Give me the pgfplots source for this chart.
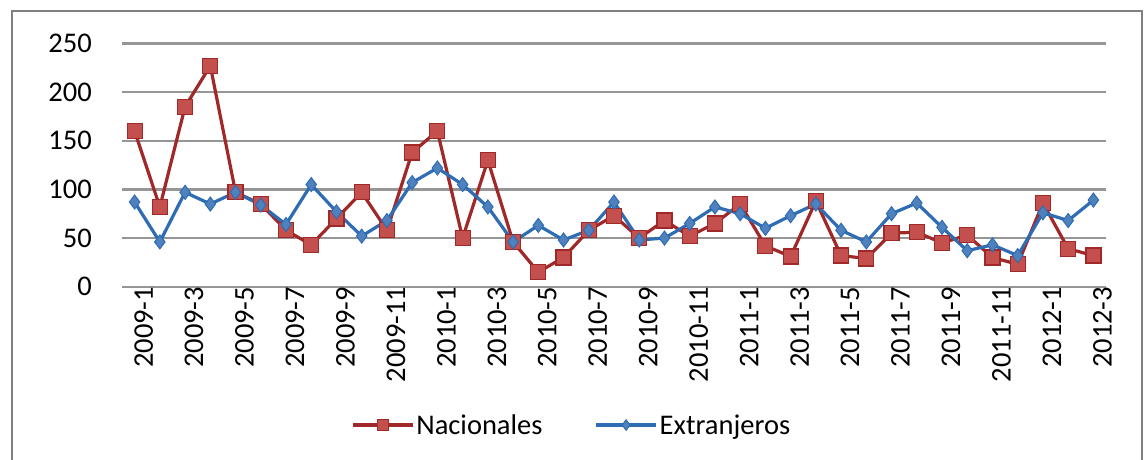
\documentclass[border=0pt]{standalone}
\usepackage{fontspec}
\setmainfont{Carlito}
\usepackage{pgfplots}
\pgfplotsset{compat=1.18}
\definecolor{redline}{RGB}{160,40,40}
\definecolor{redfill}{RGB}{196,80,77}
\definecolor{blueline}{RGB}{46,108,180}
\definecolor{bluefill}{RGB}{79,129,189}
\definecolor{gridgray}{RGB}{150,150,150}
\begin{document}
\begin{tikzpicture}[x=1bp,y=1bp]
\path[use as bounding box] (0,0) rectangle (1144,460);
\draw[gray, line width=2bp] (12,-2) -- (12,449) -- (1142,449) -- (1142,-2);
\begin{axis}[
  at={(122bp,173.3bp)}, anchor=south west,
  scale only axis, width=984bp, height=243.2bp,
  xmin=-0.5, xmax=38.5, ymin=0, ymax=250,
  ytick={0,50,100,150,200,250},
  xtick={0,2,...,38},
  xticklabels={2009-1,2009-3,2009-5,2009-7,2009-9,2009-11,2010-1,2010-3,2010-5,2010-7,2010-9,2010-11,2011-1,2011-3,2011-5,2011-7,2011-9,2011-11,2012-1,2012-3},
  axis line style={draw=none},
  major tick length=0pt,
  ymajorgrids, grid style={gridgray, line width=2.2bp},
  /pgf/number format/assume math mode=true,
  tick label style={font=\fontsize{28.5bp}{30bp}\selectfont, text=black},
  yticklabel style={inner sep=0pt, xshift=-30bp},
  xticklabel style={rotate=90, anchor=east, inner sep=0pt, yshift=-9bp},
  clip=false,
  legend columns=2,
  legend style={draw=none, fill=none, at={(0.457,-0.569)}, anchor=center,
    font=\fontsize{28.5bp}{30bp}\selectfont,
    /tikz/every odd column/.append style={column sep=0bp},
    /tikz/every even column/.append style={column sep=50bp}},
  legend image code/.code={\draw[mark repeat=2,mark phase=2, every mark/.append style={scale=0.75}] plot coordinates {(0bp,0bp)(30bp,0bp)(60bp,0bp)};},
]
\addplot[redline, line width=3.2bp, mark=square*, mark size=7.5bp,
  mark options={fill=redfill, draw=redline, line width=1.2bp}] coordinates {
(0,160)(1,82)(2,185)(3,227)(4,97)(5,85)(6,58)(7,43)(8,70)(9,97)
(10,58)(11,138)(12,160)(13,50)(14,130)(15,46)(16,15)(17,30)(18,58)(19,73)
(20,50)(21,68)(22,52)(23,65)(24,85)(25,42)(26,31)(27,88)(28,32)(29,29)
(30,55)(31,56)(32,45)(33,53)(34,30)(35,23)(36,86)(37,39)(38,32)};
\addlegendentry{Nacionales}
\addplot[blueline, line width=3.2bp, mark=diamond*, mark size=7bp,
  mark options={fill=bluefill, draw=blueline, line width=1bp}] coordinates {
(0,87)(1,46)(2,97)(3,85)(4,97)(5,84)(6,64)(7,105)(8,77)(9,52)
(10,68)(11,107)(12,122)(13,105)(14,82)(15,46)(16,63)(17,48)(18,58)(19,87)
(20,48)(21,50)(22,65)(23,82)(24,75)(25,60)(26,73)(27,85)(28,58)(29,46)
(30,75)(31,86)(32,61)(33,37)(34,43)(35,32)(36,76)(37,68)(38,89)};
\addlegendentry{Extranjeros}
\end{axis}
\end{tikzpicture}
\end{document}
